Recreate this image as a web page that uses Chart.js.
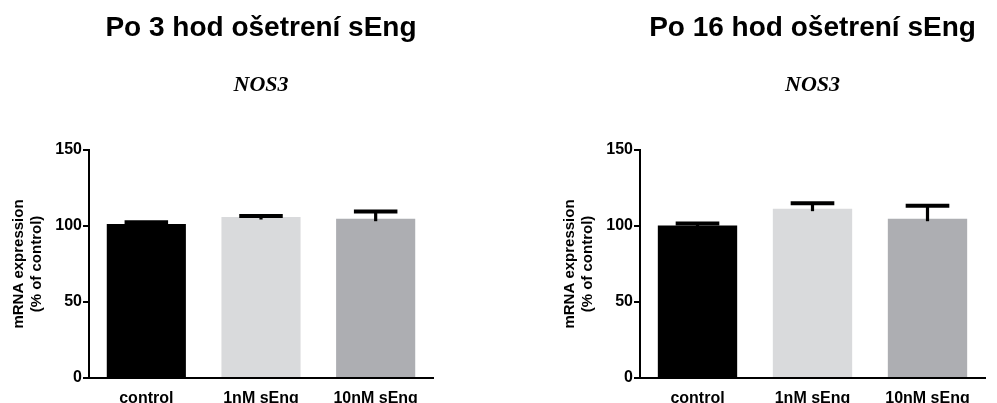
<!DOCTYPE html>
<html><head><meta charset="utf-8">
<script src="https://cdn.jsdelivr.net/npm/chart.js@4"></script>
<style>
html,body{margin:0;padding:0;background:#fff;width:997px;height:403px;overflow:hidden;}
canvas{position:absolute;top:0;}
#c1{left:0px}
#c2{left:551px}
</style></head><body>
<canvas id="c1" width="470" height="403"></canvas>
<canvas id="c2" width="446" height="403"></canvas>
<script>
// ---- data ----
const categories = ['control', '1nM sEng', '10nM sEng'];
const values3h = [101.3, 105.9, 104.8];
const errors3h = [1.2, 0.6, 4.8];
const values16h = [100.4, 111.4, 104.8];
const errors16h = [1.3, 3.5, 8.6];
const barColors = ['#000000', '#d9dadc', '#adaeb2'];
const titles = ['Po 3 hod ošetrení sEng', 'Po 16 hod ošetrení sEng'];
const geneLabel = 'NOS3';
const yAxisTitle = ['mRNA expression', '(% of control)'];
const yMin = 0, yMax = 150, yStep = 50;

Chart.defaults.font.family = "'Liberation Sans', Arial, sans-serif";
Chart.defaults.color = '#000';

const errorBarPlugin = {
  id: 'errorBars',
  afterDatasetsDraw(chart) {
    const ctx = chart.ctx;
    const yScale = chart.scales.y;
    const ds = chart.data.datasets[0];
    const meta = chart.getDatasetMeta(0);
    ctx.save();
    ctx.strokeStyle = '#000';
    ctx.lineCap = 'butt';
    meta.data.forEach((bar, i) => {
      const yTop = yScale.getPixelForValue(ds.data[i] + ds.errors[i]);
      const yBar = yScale.getPixelForValue(ds.data[i]);
      const half = bar.width * 0.275;
      ctx.lineWidth = 3.2;
      ctx.beginPath(); ctx.moveTo(bar.x, yBar + 2.5); ctx.lineTo(bar.x, yTop); ctx.stroke();
      ctx.lineWidth = 4;
      ctx.beginPath(); ctx.moveTo(bar.x - half, yTop); ctx.lineTo(bar.x + half, yTop); ctx.stroke();
    });
    ctx.restore();
  }
};

function makeChart(id, title, values, errors, rightPad) {
  return new Chart(document.getElementById(id), {
    type: 'bar',
    data: {
      labels: categories,
      datasets: [{
        data: values,
        errors: errors,
        backgroundColor: barColors,
        borderWidth: 0,
        categoryPercentage: 1,
        barPercentage: 0.69
      }]
    },
    options: {
      responsive: false,
      animation: false,
      events: [],
      layout: { padding: { left: 0, right: rightPad, top: 0, bottom: 0 } },
      plugins: {
        legend: { display: false },
        tooltip: { enabled: false },
        title: {
          display: true, text: title, fullSize: false,
          font: { size: 28, weight: 'bold' },
          color: '#000',
          padding: { top: 11, bottom: 28 }
        },
        subtitle: {
          display: true, text: geneLabel, fullSize: false,
          font: { family: "'Liberation Serif', 'Times New Roman', serif", size: 22, weight: 'bold', style: 'italic' },
          color: '#000',
          padding: { top: 0, bottom: 51 }
        }
      },
      scales: {
        x: {
          grid: { display: false },
          border: { display: true, color: '#000', width: 2 },
          ticks: { font: { size: 16, weight: 'bold' }, color: '#000', padding: 3, maxRotation: 0 },
          afterFit(scale) { scale.height = 25; }
        },
        y: {
          min: yMin, max: yMax,
          grid: { drawOnChartArea: false, drawTicks: true, tickLength: 6, color: '#000', lineWidth: 2 },
          border: { display: true, color: '#000', width: 2 },
          ticks: { stepSize: yStep, font: { size: 16, weight: 'bold' }, color: '#000', padding: 1 },
          title: {
            display: true, text: yAxisTitle,
            font: { size: 15, weight: 'bold', lineHeight: 1.2 },
            color: '#000', padding: { top: 10, bottom: 0 }
          },
          afterFit(scale) { scale.width = 89; }
        }
      }
    },
    plugins: [errorBarPlugin]
  });
}

makeChart('c1', titles[0], values3h, errors3h, 37);
makeChart('c2', titles[1], values16h, errors16h, 12);
</script>
</body></html>
